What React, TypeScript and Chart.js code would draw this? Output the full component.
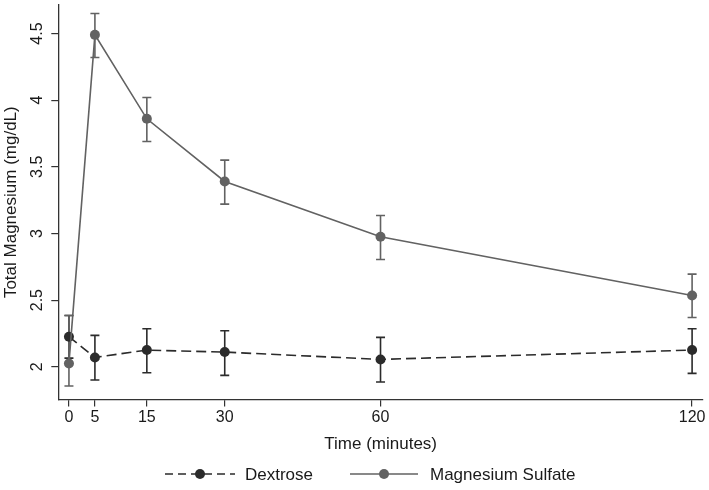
import React, { useEffect, useRef } from "react";
import { Chart, registerables } from "chart.js";

Chart.register(...registerables);

const times = [0, 5, 15, 30, 60, 120];
const xTickValues = [0, 5, 15, 30, 60, 120];
const yTickValues = [2, 2.5, 3, 3.5, 4, 4.5];

const dextroseMean = [2.225, 2.07, 2.125, 2.11, 2.055, 2.125];
const dextroseUpper = [2.385, 2.235, 2.285, 2.27, 2.22, 2.285];
const dextroseLower = [2.065, 1.9, 1.955, 1.935, 1.885, 1.95];

const mgMean = [2.025, 4.49, 3.86, 3.39, 2.975, 2.535];
const mgUpper = [2.385, 4.65, 4.02, 3.55, 3.135, 2.695];
const mgLower = [1.855, 4.32, 3.69, 3.22, 2.805, 2.37];

const seriesNames = ["Dextrose", "Magnesium Sulfate"];

const DEX_COLOR = "#2b2b2b";
const MG_COLOR = "#626262";
const AXIS_COLOR = "#333333";
const TEXT_COLOR = "#1a1a1a";
const FONT = "'Liberation Sans', Arial, Helvetica, sans-serif";

const errorBarPlugin = {
  id: "errorBars",
  beforeDatasetsDraw(chart: any) {
    const ctx = chart.ctx;
    const xs = chart.scales.x;
    const ys = chart.scales.y;
    const groups = [
      { lo: dextroseLower, hi: dextroseUpper, color: DEX_COLOR },
      { lo: mgLower, hi: mgUpper, color: MG_COLOR },
    ];
    ctx.save();
    groups.forEach((g) => {
      ctx.strokeStyle = g.color;
      ctx.lineWidth = 1.6;
      times.forEach((t, i) => {
        const x = xs.getPixelForValue(t);
        const y1 = ys.getPixelForValue(g.lo[i]);
        const y2 = ys.getPixelForValue(g.hi[i]);
        ctx.beginPath();
        ctx.moveTo(x, y1);
        ctx.lineTo(x, y2);
        ctx.moveTo(x - 4.5, y1);
        ctx.lineTo(x + 4.5, y1);
        ctx.moveTo(x - 4.5, y2);
        ctx.lineTo(x + 4.5, y2);
        ctx.stroke();
      });
    });
    ctx.restore();
  },
};

const legendPlugin = {
  id: "customLegend",
  afterDraw(chart: any) {
    const ctx = chart.ctx;
    const y = 474;
    const items = [
      { x0: 165, x1: 235, dash: [8, 5], color: DEX_COLOR, text: seriesNames[0], tx: 245 },
      { x0: 350, x1: 418, dash: [], color: MG_COLOR, text: seriesNames[1], tx: 430 },
    ];
    ctx.save();
    items.forEach((it) => {
      ctx.strokeStyle = it.color;
      ctx.lineWidth = 1.6;
      ctx.setLineDash(it.dash);
      ctx.beginPath();
      ctx.moveTo(it.x0, y);
      ctx.lineTo(it.x1, y);
      ctx.stroke();
      ctx.setLineDash([]);
      ctx.fillStyle = it.color;
      ctx.beginPath();
      ctx.arc((it.x0 + it.x1) / 2, y, 5, 0, Math.PI * 2);
      ctx.fill();
      ctx.fillStyle = TEXT_COLOR;
      ctx.font = `17px ${FONT}`;
      ctx.textBaseline = "middle";
      ctx.textAlign = "left";
      ctx.fillText(it.text, it.tx, y + 1);
    });
    ctx.restore();
  },
};

export default function App() {
  const ref = useRef<HTMLCanvasElement>(null);
  useEffect(() => {
    if (!ref.current) return;
    const chart = new Chart(ref.current, {
      type: "line",
      data: {
        datasets: [
          {
            label: seriesNames[1],
            data: times.map((t, i) => ({ x: t, y: mgMean[i] })),
            borderColor: MG_COLOR,
            backgroundColor: MG_COLOR,
            pointBackgroundColor: MG_COLOR,
            pointBorderColor: MG_COLOR,
            borderWidth: 1.6,
            pointRadius: 5,
            pointBorderWidth: 0,
            tension: 0,
            order: 0,
          },
          {
            label: seriesNames[0],
            data: times.map((t, i) => ({ x: t, y: dextroseMean[i] })),
            borderColor: DEX_COLOR,
            backgroundColor: DEX_COLOR,
            pointBackgroundColor: DEX_COLOR,
            pointBorderColor: DEX_COLOR,
            borderWidth: 1.6,
            borderDash: [10, 5],
            pointRadius: 5,
            pointBorderWidth: 0,
            tension: 0,
            order: 1,
          },
        ],
      },
      options: {
        responsive: false,
        animation: false,
        devicePixelRatio: 1,
        layout: { padding: { left: 0, right: 6, top: 2, bottom: 35 } },
        plugins: {
          legend: { display: false },
          tooltip: { enabled: false },
        },
        scales: {
          x: {
            type: "linear",
            min: -2.05,
            max: 122.1,
            afterBuildTicks: (s: any) => {
              s.ticks = xTickValues.map((v) => ({ value: v }));
            },
            afterFit: (s: any) => {
              s.paddingLeft = 0;
              s.paddingRight = 0;
            },
            grid: {
              display: true,
              drawOnChartArea: false,
              drawTicks: true,
              tickLength: 7,
              color: AXIS_COLOR,
              lineWidth: 1.2,
            },
            border: { display: true, color: AXIS_COLOR, width: 1.3 },
            ticks: {
              color: TEXT_COLOR,
              font: { size: 16, family: FONT },
              padding: 2,
              maxRotation: 0,
              minRotation: 0,
              callback: (v: any) => String(v),
            },
            title: {
              display: true,
              text: "Time (minutes)",
              color: TEXT_COLOR,
              font: { size: 17, family: FONT },
              padding: { top: 5, bottom: 0 },
            },
          },
          y: {
            type: "linear",
            min: 1.755,
            max: 4.714,
            afterBuildTicks: (s: any) => {
              s.ticks = yTickValues.map((v) => ({ value: v }));
            },
            afterFit: (s: any) => {
              s.width = 58.3;
              s.paddingTop = 0;
              s.paddingBottom = 0;
            },
            grid: {
              display: true,
              drawOnChartArea: false,
              drawTicks: true,
              tickLength: 7,
              color: AXIS_COLOR,
              lineWidth: 1.2,
            },
            border: { display: true, color: AXIS_COLOR, width: 1.3 },
            ticks: {
              color: TEXT_COLOR,
              font: { size: 16, family: FONT },
              padding: 3,
              minRotation: 90,
              maxRotation: 90,
              crossAlign: "center",
              callback: (v: any) => String(v),
            },
            title: {
              display: true,
              text: "Total Magnesium (mg/dL)",
              color: TEXT_COLOR,
              font: { size: 17, family: FONT },
              padding: { top: 1, bottom: 4 },
            },
          },
        },
      },
      plugins: [errorBarPlugin, legendPlugin],
    });
    return () => chart.destroy();
  }, []);
  return (
    <div style={{ position: "fixed", left: 0, top: 0, width: 709, height: 490, background: "#fff" }}>
      <canvas ref={ref} width={709} height={490} style={{ display: "block" }} />
    </div>
  );
}
